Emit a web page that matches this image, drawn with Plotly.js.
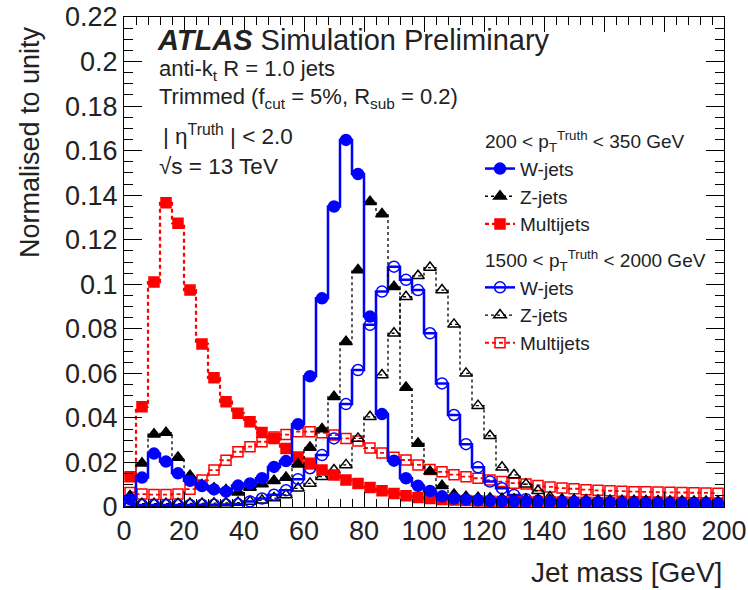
<!DOCTYPE html>
<html>
<head>
<meta charset="utf-8">
<script src="https://cdn.plot.ly/plotly-3.0.1.min.js"></script>
<style>body{margin:0;padding:0;background:#fff;}#chart{width:748px;height:590px;}</style>
</head>
<body>
<div id="chart"></div>
<script>
// Bin centres (GeV), 4 GeV bins from 0 to 200
const binCentres = [2,6,10,14,18,22,26,30,34,38,42,46,50,54,58,62,66,70,74,78,82,86,90,94,98,102,106,110,114,118,122,126,130,134,138,142,146,150,154,158,162,166,170,174,178,182,186,190,194,198];

// 200 < pT < 350 GeV
const wLow = [0.0035,0.0132,0.0240,0.0204,0.0151,0.0118,0.0094,0.0079,0.0069,0.0096,0.0106,0.0129,0.0180,0.0206,0.0372,0.0587,0.0937,0.1349,0.1648,0.1495,0.0855,0.0417,0.0208,0.0129,0.0095,0.0072,0.0048,0.0038,0.0033,0.0030,0.0028,0.0027,0.0026,0.0025,0.0024,0.0023,0.0022,0.0022,0.0021,0.0020,0.0020,0.0019,0.0019,0.0018,0.0018,0.0017,0.0017,0.0016,0.0016,0.0015];
const zLow = [0.0050,0.0196,0.0327,0.0334,0.0222,0.0140,0.0099,0.0084,0.0076,0.0066,0.0088,0.0103,0.0118,0.0132,0.0192,0.0267,0.0350,0.0495,0.0742,0.1064,0.1371,0.1316,0.0989,0.0537,0.0285,0.0160,0.0095,0.0056,0.0046,0.0042,0.0039,0.0037,0.0035,0.0034,0.0033,0.0032,0.0031,0.0030,0.0030,0.0029,0.0029,0.0028,0.0028,0.0027,0.0027,0.0026,0.0026,0.0025,0.0025,0.0025];
const mjLow = [0.0136,0.0450,0.1010,0.1366,0.1274,0.0974,0.0732,0.0580,0.0473,0.0421,0.0383,0.0334,0.0308,0.0263,0.0224,0.0196,0.0166,0.0144,0.0121,0.0106,0.0088,0.0073,0.0061,0.0050,0.0043,0.0038,0.0034,0.0031,0.0029,0.0027,0.0026,0.0025,0.0024,0.0023,0.0023,0.0022,0.0022,0.0021,0.0021,0.0020,0.0020,0.0020,0.0019,0.0019,0.0019,0.0018,0.0018,0.0018,0.0018,0.0017];

// 1500 < pT < 2000 GeV
const wHigh = [0.0009,0.0009,0.0009,0.0009,0.0009,0.0009,0.0010,0.0010,0.0011,0.0013,0.0025,0.0038,0.0055,0.0075,0.0125,0.0174,0.0233,0.0308,0.0462,0.0615,0.0818,0.0967,0.1079,0.1020,0.0974,0.0780,0.0555,0.0413,0.0282,0.0178,0.0114,0.0084,0.0054,0.0035,0.0028,0.0025,0.0023,0.0021,0.0020,0.0019,0.0018,0.0018,0.0017,0.0017,0.0016,0.0016,0.0015,0.0015,0.0015,0.0014];
const zHigh = [0.0015,0.0015,0.0015,0.0015,0.0015,0.0016,0.0016,0.0017,0.0018,0.0020,0.0025,0.0030,0.0040,0.0054,0.0084,0.0106,0.0136,0.0166,0.0189,0.0308,0.0405,0.0593,0.0780,0.0944,0.1038,0.1075,0.0974,0.0820,0.0600,0.0455,0.0320,0.0178,0.0144,0.0102,0.0073,0.0045,0.0035,0.0031,0.0029,0.0027,0.0026,0.0025,0.0024,0.0023,0.0023,0.0022,0.0022,0.0021,0.0021,0.0020];
const mjHigh = [0.0065,0.0058,0.0056,0.0056,0.0058,0.0080,0.0121,0.0166,0.0210,0.0248,0.0271,0.0293,0.0314,0.0325,0.0338,0.0338,0.0333,0.0323,0.0308,0.0296,0.0265,0.0243,0.0223,0.0211,0.0189,0.0168,0.0158,0.0145,0.0136,0.0129,0.0121,0.0114,0.0107,0.0103,0.0097,0.0090,0.0085,0.0082,0.0078,0.0075,0.0073,0.0071,0.0069,0.0068,0.0067,0.0066,0.0065,0.0064,0.0063,0.0062];

const seriesNames = ["W-jets","Z-jets","Multijets"];
const groupLow = "200 < p<sub>T</sub><sup>Truth</sup> < 350 GeV";
const groupHigh = "1500 < p<sub>T</sub><sup>Truth</sup> < 2000 GeV";

const BLUE = "rgb(0,0,255)", RED = "rgb(255,0,0)", BLACK = "rgb(0,0,0)";
const FONT = "Liberation Sans, Arial, Helvetica, sans-serif";
const LEGSIZE = 19;

function hist(y, name, group, gtitle, color, dash, width, symbol, size, showTitle) {
  const t = {
    x: binCentres, y: y, name: name, type: "scatter", mode: "lines+markers",
    line: {shape: "hvh", color: color, dash: dash, width: width},
    marker: {symbol: symbol, size: size, color: color, line: {color: color, width: 1.5}},
    legendgroup: group
  };
  if (showTitle) t.legendgrouptitle = {text: gtitle, font: {size: LEGSIZE, color: "#222", family: FONT}};
  return t;
}

const traces = [
  hist(mjHigh, seriesNames[2], "hi", groupHigh, RED, "4px,3px", 1.8, "square-open", 10, false),
  hist(zHigh, seriesNames[1], "hi", groupHigh, BLACK, "dot", 1.3, "triangle-up-open", 11, false),
  hist(wHigh, seriesNames[0], "hi", groupHigh, BLUE, "solid", 2.5, "circle-open", 11, true),
  hist(mjLow, seriesNames[2], "lo", groupLow, RED, "4px,3px", 2.2, "square", 10, false),
  hist(zLow, seriesNames[1], "lo", groupLow, BLACK, "dot", 1.3, "triangle-up", 11, false),
  hist(wLow, seriesNames[0], "lo", groupLow, BLUE, "solid", 2.5, "circle", 11, true)
];

// legend order: low group first, W / Z / Multijets
traces[5].legendrank = 1; traces[4].legendrank = 2; traces[3].legendrank = 3;
traces[2].legendrank = 4; traces[1].legendrank = 5; traces[0].legendrank = 6;

const L = 124, R = 724, T = 17, B = 507;
const px = v => (v - L) / (R - L);
const py = v => (B - v) / (B - T);

const txt = (text, x, y, size, extra) => Object.assign({
  text: text, xref: "paper", yref: "paper", x: px(x), y: py(y),
  xanchor: "left", yanchor: "middle", showarrow: false,
  font: {family: FONT, size: size, color: "#222"}
}, extra || {});

const layout = {
  width: 748, height: 590,
  margin: {l: L, r: 748 - R, t: T, b: 590 - B},
  paper_bgcolor: "#fff", plot_bgcolor: "#fff",
  font: {family: FONT, color: "#222"},
  showlegend: true,
  legend: {
    x: px(480), y: py(122), xanchor: "left", yanchor: "top",
    bgcolor: "rgba(0,0,0,0)", font: {size: LEGSIZE, family: FONT, color: "#222"},
    traceorder: "grouped", tracegroupgap: 8, itemwidth: 30
  },
  xaxis: {
    range: [0, 200], dtick: 20, tick0: 0, showgrid: false, zeroline: false,
    showline: true, linecolor: "#000", linewidth: 1, mirror: "ticks",
    ticks: "inside", ticklen: 15, tickcolor: "#000",
    minor: {dtick: 4, ticklen: 8, ticks: "inside", tickcolor: "#000", showgrid: false},
    tickfont: {size: 27, family: FONT, color: "#222"}
  },
  yaxis: {
    range: [0, 0.22], dtick: 0.02, tick0: 0, showgrid: false, zeroline: false,
    showline: true, linecolor: "#000", linewidth: 1, mirror: "ticks",
    ticks: "inside", ticklen: 18, tickcolor: "#000",
    minor: {dtick: 0.005, ticklen: 9, ticks: "inside", tickcolor: "#000", showgrid: false},
    tickfont: {size: 27, family: FONT, color: "#222"}
  },
  annotations: [
    txt("<b><i>ATLAS</i></b> Simulation Preliminary", 155, 40, 29),
    txt("anti-k<sub>t</sub> R = 1.0 jets", 157, 70, 22),
    txt("Trimmed (f<sub>cut</sub> = 5%, R<sub>sub</sub> = 0.2)", 157, 98, 22),
    txt("| η<sup>Truth</sup> | < 2.0", 161, 135, 22.5),
    txt("√s = 13 TeV", 157, 166, 22.5),
    {text: "Normalised to unity", xref: "paper", yref: "paper", x: px(30), y: py(142),
     xanchor: "center", yanchor: "middle", textangle: -90, showarrow: false,
     font: {family: FONT, size: 27, color: "#222"}},
    {text: "Jet mass [GeV]", xref: "paper", yref: "paper", x: 1, y: py(572),
     xanchor: "right", yanchor: "middle", showarrow: false,
     font: {family: FONT, size: 28, color: "#222"}}
  ]
};

Plotly.newPlot("chart", traces, layout, {staticPlot: true, displayModeBar: false});
</script>
</body>
</html>
